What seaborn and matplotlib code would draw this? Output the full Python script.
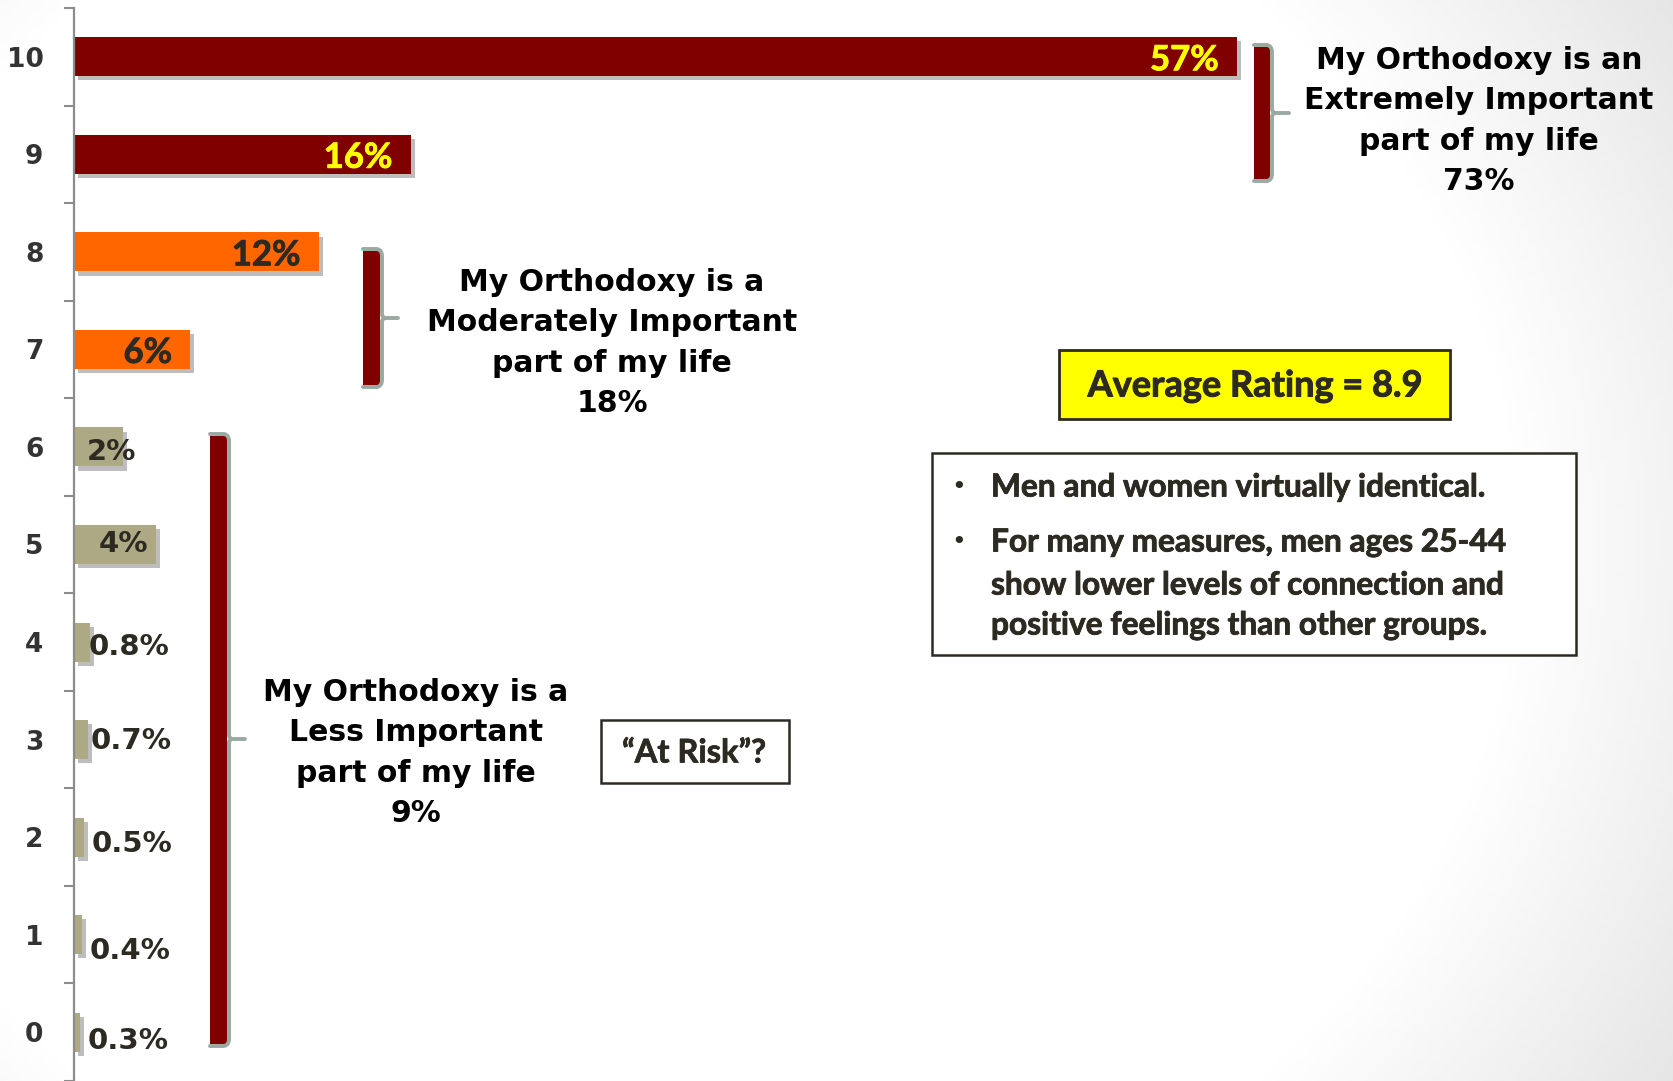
import os
import numpy as np
import pandas as pd
import matplotlib
matplotlib.use("Agg")
import matplotlib.pyplot as plt
import matplotlib.patheffects as pe
from matplotlib import font_manager as fm
from matplotlib.patches import Rectangle, PathPatch
from matplotlib.path import Path
import seaborn as sns

# ---------------- data ----------------
ratings = ["10", "9", "8", "7", "6", "5", "4", "3", "2", "1", "0"]
shares = [57, 16.5, 12, 5.7, 2.4, 4.0, 0.8, 0.7, 0.5, 0.4, 0.3]
share_labels = ["57%", "16%", "12%", "6%", "2%", "4%", "0.8%", "0.7%", "0.5%", "0.4%", "0.3%"]
groups = ["Extremely", "Extremely", "Moderately", "Moderately",
          "Less", "Less", "Less", "Less", "Less", "Less", "Less"]
group_names = ["Extremely", "Moderately", "Less"]
group_titles = ["My Orthodoxy is an\nExtremely Important\npart of my life",
                "My Orthodoxy is a\nModerately Important\npart of my life",
                "My Orthodoxy is a\nLess Important\npart of my life"]
group_totals = ["73%", "18%", "9%"]
average_rating = 8.9
note_lines = [["Men and women virtually identical."],
              ["For many measures, men ages 25-44",
               "show lower levels of connection and",
               "positive feelings than other groups."]]
risk_label = "\u201cAt Risk\u201d?"

# ---------------- style ----------------
group_colors = {"Extremely": "#800000", "Moderately": "#FF6600", "Less": "#ADA985"}
label_colors = ["#FFFF00", "#FFFF00", "#2d2a22", "#2d2a22"] + ["#2d2a22"] * 7
DARK = "#2d2a22"
GRAY = "#9AA9A2"


def bold_font(names):
    for name in names:
        cands = [f for f in fm.fontManager.ttflist if f.name == name]
        for f in cands:
            base = os.path.basename(f.fname).lower()
            if "bold" in base and "italic" not in base and "semi" not in base \
                    and "extra" not in base and "ultra" not in base:
                return fm.FontProperties(fname=f.fname)
        for f in cands:
            if str(f.weight) in ("700", "bold") and f.style == "normal":
                return fm.FontProperties(fname=f.fname)
    return fm.FontProperties(family="DejaVu Sans", weight="bold")


CAL = bold_font(["Lato", "Roboto", "Open Sans", "Noto Sans"])


def cal(size):
    fp = CAL.copy()
    fp.set_size(size)
    return fp


def heavy(color, w=0.7):
    return [pe.Stroke(linewidth=w, foreground=color), pe.Normal()]


W, H = 1673, 1081
fig = plt.figure(figsize=(W / 100, H / 100), dpi=100)

# background gradient (slide look)
bg = fig.add_axes([0, 0, 1, 1], zorder=0)
yy, xx = np.mgrid[0:1:200j, 0:1:300j]
r = np.sqrt(((xx - 0.40) / 0.62) ** 2 + ((yy - 0.5) / 0.85) ** 2)
val = 1 - 0.11 * np.clip((r - 0.82) / 0.35, 0, 1)
bg.imshow(np.dstack([val, val, val]), extent=[0, 1, 0, 1], aspect="auto")
bg.axis("off")

PXPCT = 20.4  # pixels per percentage point
ax_left = 74
ax = fig.add_axes([ax_left / W, 0, (W - ax_left) / W, (H - 8) / H], zorder=1)
ax.patch.set_alpha(0)

df = pd.DataFrame({"rating": ratings, "share": shares, "group": groups})
sns.barplot(data=df, x="share", y="rating", hue="group", palette=group_colors,
            order=ratings, hue_order=group_names, dodge=False, legend=False,
            width=0.4, saturation=1, ax=ax)

for p in ax.patches:
    p.set_path_effects([pe.SimplePatchShadow(offset=(3, -3), shadow_rgbFace="#444444", alpha=0.35),
                        pe.Normal()])
    p.set_linewidth(0)

ax.set_xlim(0, (W - ax_left) / PXPCT)
ax.set_ylim(10.45, -0.5)
ax.set_xlabel("")
ax.set_ylabel("")
ax.set_xticks([])
for s in ["top", "right", "bottom"]:
    ax.spines[s].set_visible(False)
ax.spines["left"].set_color("#8c8c8c")
ax.spines["left"].set_linewidth(1.6)
ax.set_yticks(range(len(ratings)))
ax.set_yticklabels(ratings)
ax.set_yticks(np.arange(-0.5, len(ratings) + 0.5, 1), minor=True)
ax.tick_params(axis="y", which="major", length=0, pad=22, labelsize=19, labelcolor="#333333")
ax.tick_params(axis="y", which="minor", length=7.5, width=1.5, color="#8c8c8c")
for lbl in ax.get_yticklabels():
    lbl.set_fontweight("bold")
    lbl.set_fontfamily("DejaVu Sans")

# value labels
small_x = {4: 0.64, 5: 1.2, 6: 0.72, 7: 0.82, 8: 0.87, 9: 0.77, 10: 0.66}
small_dy = {4: 5, 5: 0, 6: 5, 7: 1, 8: 7, 9: 16, 10: 9}
for i, (v, lab) in enumerate(zip(shares, share_labels)):
    if i < 4:
        ax.annotate(lab, xy=(v, i), xytext=(-13, -2.5), textcoords="offset points",
                    ha="right", va="center", fontproperties=cal(25),
                    color=label_colors[i], zorder=5,
                    path_effects=heavy(label_colors[i], 0.6))
    else:
        ax.annotate(lab, xy=(small_x[i], i), xytext=(0, -small_dy[i] * 0.72),
                    textcoords="offset points", ha="left", va="center",
                    fontsize=21, fontweight="bold", family="DejaVu Sans",
                    color=label_colors[i], zorder=5)

# ---------------- overlay annotations (pixel coordinates) ----------------
ov = fig.add_axes([0, 0, 1, 1], zorder=2)
ov.set_xlim(0, W)
ov.set_ylim(H, 0)
ov.axis("off")
ov.patch.set_alpha(0)


def bracket(x0, x1, y0, y1, ny, nx):
    ov.add_patch(Rectangle((x0, y0 + 2), x1 - x0 - 2, y1 - y0 - 4,
                           facecolor="#800000", edgecolor="none", zorder=3))
    verts = [(x0, y0), (x1 - 5, y0), (x1, y0 + 1), (x1, y0 + 7),
             (x1, ny - 3), (x1 + 2, ny), (nx, ny),
             (x1 + 2, ny), (x1, ny + 3), (x1, y1 - 7), (x1, y1 - 1), (x1 - 5, y1), (x0, y1)]
    codes = [Path.MOVETO, Path.LINETO, Path.CURVE3, Path.CURVE3,
             Path.LINETO, Path.LINETO, Path.LINETO,
             Path.MOVETO, Path.LINETO, Path.LINETO, Path.CURVE3, Path.CURVE3, Path.LINETO]
    ov.add_patch(PathPatch(Path(verts, codes), facecolor="none", edgecolor=GRAY,
                           lw=2.8, capstyle="round", joinstyle="round", zorder=4))


bracket(1254, 1272, 45, 181, 113, 1289)
bracket(363, 382, 249, 387, 318, 398)
bracket(210, 229, 434, 1046, 739, 245)

title_pos = [(1479, 121), (612, 343), (416, 753)]
for (tx, ty), t, tot in zip(title_pos, group_titles, group_totals):
    ov.text(tx, ty, t + "\n" + tot, ha="center", va="center", multialignment="center",
            fontsize=21.5, fontweight="bold", family="DejaVu Sans", color="black",
            linespacing=1.5, zorder=5)

# Average rating box
ov.add_patch(Rectangle((1059, 350), 391, 69, facecolor="#FFFF00", edgecolor=DARK,
                       lw=2, zorder=3))
ov.text(1255, 386, f"Average Rating = {average_rating}", ha="center", va="center",
        fontproperties=cal(26), color=DARK, zorder=5, path_effects=heavy(DARK, 0.7))

# notes box
ov.add_patch(Rectangle((932, 453), 644, 202, facecolor="white", edgecolor=DARK,
                       lw=1.8, zorder=3))
note_y = [[487], [542, 585, 625]]
for ys, lines in zip(note_y, note_lines):
    ov.text(959, ys[0], "\u2022", ha="center", va="center", fontsize=18,
            family="DejaVu Sans", color=DARK, zorder=5)
    for yv, line in zip(ys, lines):
        ov.text(991, yv, line, ha="left", va="center", fontproperties=cal(22.8),
                color=DARK, zorder=5, path_effects=heavy(DARK, 0.6))

# At risk box
ov.add_patch(Rectangle((601, 720), 188, 63, facecolor="white", edgecolor=DARK,
                       lw=1.8, zorder=3))
ov.text(694, 753, risk_label, ha="center", va="center", fontproperties=cal(23.5),
        color=DARK, zorder=5, path_effects=heavy(DARK, 0.5))

fig.savefig("out.png", dpi=100)
